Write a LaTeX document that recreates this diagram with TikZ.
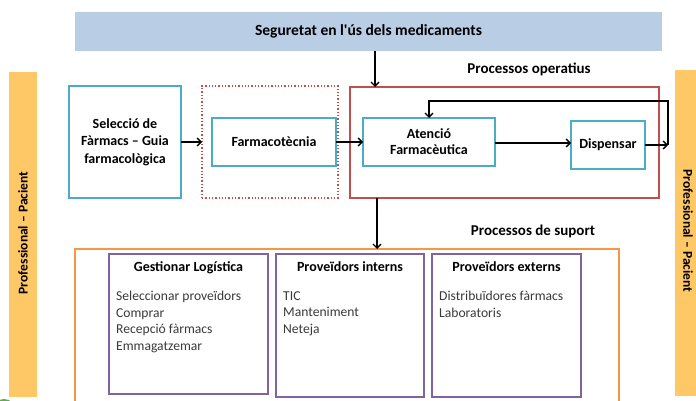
\documentclass[tikz,border=0pt]{standalone}
\usepackage{fontspec}
\setmainfont{Carlito}
\usetikzlibrary{arrows.meta}
\definecolor{myteal}{HTML}{4BACC6}
\definecolor{myred}{HTML}{C0504D}
\definecolor{mydotred}{HTML}{C0504D}
\definecolor{myorange}{HTML}{F79646}
\definecolor{mypurple}{HTML}{8064A2}
\definecolor{mybar}{HTML}{FFC866}
\definecolor{mybanner}{HTML}{B9CDE5}
\definecolor{mygreen}{HTML}{5DAF47}
\definecolor{itemgray}{HTML}{3A3A3A}
\tikzset{
  box/.style={draw, rectangle, inner sep=0pt, outer sep=0pt, align=center},
  tealbox/.style={box, draw=myteal, line width=1.6pt, font=\fontsize{14}{17.5}\selectfont\bfseries},
  dotbox/.style={box, draw=mydotred, line width=1.3pt, dotted},
  redbox/.style={box, draw=myred, line width=1.2pt},
  orangebox/.style={box, draw=myorange, line width=1.4pt},
  purplebox/.style={box, draw=mypurple, line width=1.4pt},
  barbox/.style={box, draw=none, fill=mybar},
  bartext/.style={font=\fontsize{13.5}{15}\selectfont\bfseries, inner sep=0pt},
  lbl/.style={font=\fontsize{15}{17}\selectfont\bfseries, inner sep=0pt},
  ttl/.style={font=\fontsize{14}{16}\selectfont\bfseries, inner sep=0pt, anchor=base},
  items/.style={font=\fontsize{13.6}{16.5}\selectfont, text=itemgray, align=left, inner sep=0pt, anchor=north west},
  arr/.style={draw=black, line width=1.4pt, -{Straight Barb[length=4pt,width=8pt,line width=1.4pt]}},
}
\begin{document}
\begin{tikzpicture}[x=1pt,y=-1pt]
\clip (0,0) rectangle (696,401);
\fill[white] (0,0) rectangle (696,401);

% banner
\node[box, draw=none, fill=mybanner, minimum width=587, minimum height=39, font=\fontsize{15.5}{17}\selectfont\bfseries] (seg) at (368.5,31.5) {Seguretat en l\textquotesingle ús dels medicaments};

% side bars
\node[barbox, minimum width=28, minimum height=325] (lbar) at (23,234.5) {};
\node[bartext, rotate=90] (ltxt) at (23,233) {Professional – Pacient};
\node[barbox, minimum width=28, minimum height=326] (rbar) at (689,233) {};
\node[bartext, rotate=-90] (rtxt) at (688,231) {Professional – Pacient};

% operative processes
\node[tealbox, minimum width=112, minimum height=112] (sel) at (125,142) {Selecció de\\Fàrmacs – Guia\\farmacològica};
\node[dotbox, minimum width=136, minimum height=112] (dot) at (270,142) {};
\node[tealbox, minimum width=124, minimum height=48] (farm) at (274,142) {Farmacotècnia};
\node[redbox, minimum width=309, minimum height=111] (op) at (504.5,142.5) {};
\node[tealbox, minimum width=132, minimum height=48, font=\fontsize{14}{16}\selectfont\bfseries] (aten) at (429,142) {Atenció\\Farmacèutica};
\node[tealbox, minimum width=74, minimum height=48] (disp) at (608,145) {Dispensar};
\node[lbl] (oplbl) at (529,69) {Processos operatius};

% support processes
\node[lbl] (suplbl) at (533,231) {Processos de suport};
\node[orangebox, minimum width=544, minimum height=170] (sup) at (347,334) {};
\node[purplebox, minimum width=159, minimum height=140] (gest) at (188.5,324) {};
\node[purplebox, minimum width=148, minimum height=143] (intr) at (350,325.5) {};
\node[purplebox, minimum width=149, minimum height=143] (extr) at (506.5,325.5) {};
\node[ttl] (gestt) at (188.5,271) {Gestionar Logística};
\node[ttl] (intrt) at (350,271) {Proveïdors interns};
\node[ttl] (extrt) at (506.5,271) {Proveïdors externs};
\node[items] (gesti) at (116,291) {Seleccionar proveïdors\\Comprar\\Recepció fàrmacs\\Emmagatzemar};
\node[items] (intri) at (283,291) {TIC\\Manteniment\\Neteja};
\node[items] (extri) at (439,291) {Distribuïdores fàrmacs\\Laboratoris};

% connectors
\coordinate (t1) at (375,0);
\coordinate (t2) at (377,0);
\coordinate (lp) at (668,145);
\coordinate (lt) at (668,101);
\draw[arr] (seg.south -| t1) -- (op.north -| t1);
\draw[arr] (op.south -| t2) -- (sup.north -| t2);
\draw[arr] (sel.east) -- (dot.west);
\draw[arr] (farm.east) -- (aten.west);
\draw[arr] (aten.east |- 0,143) -- (disp.west |- 0,143);
\draw[arr] (disp.east) -- (lp);
\draw[arr] (lp) -- (lt) -| (aten.north);

% green corner mark
\fill[mygreen] (4,411) circle (12);
\end{tikzpicture}
\end{document}
